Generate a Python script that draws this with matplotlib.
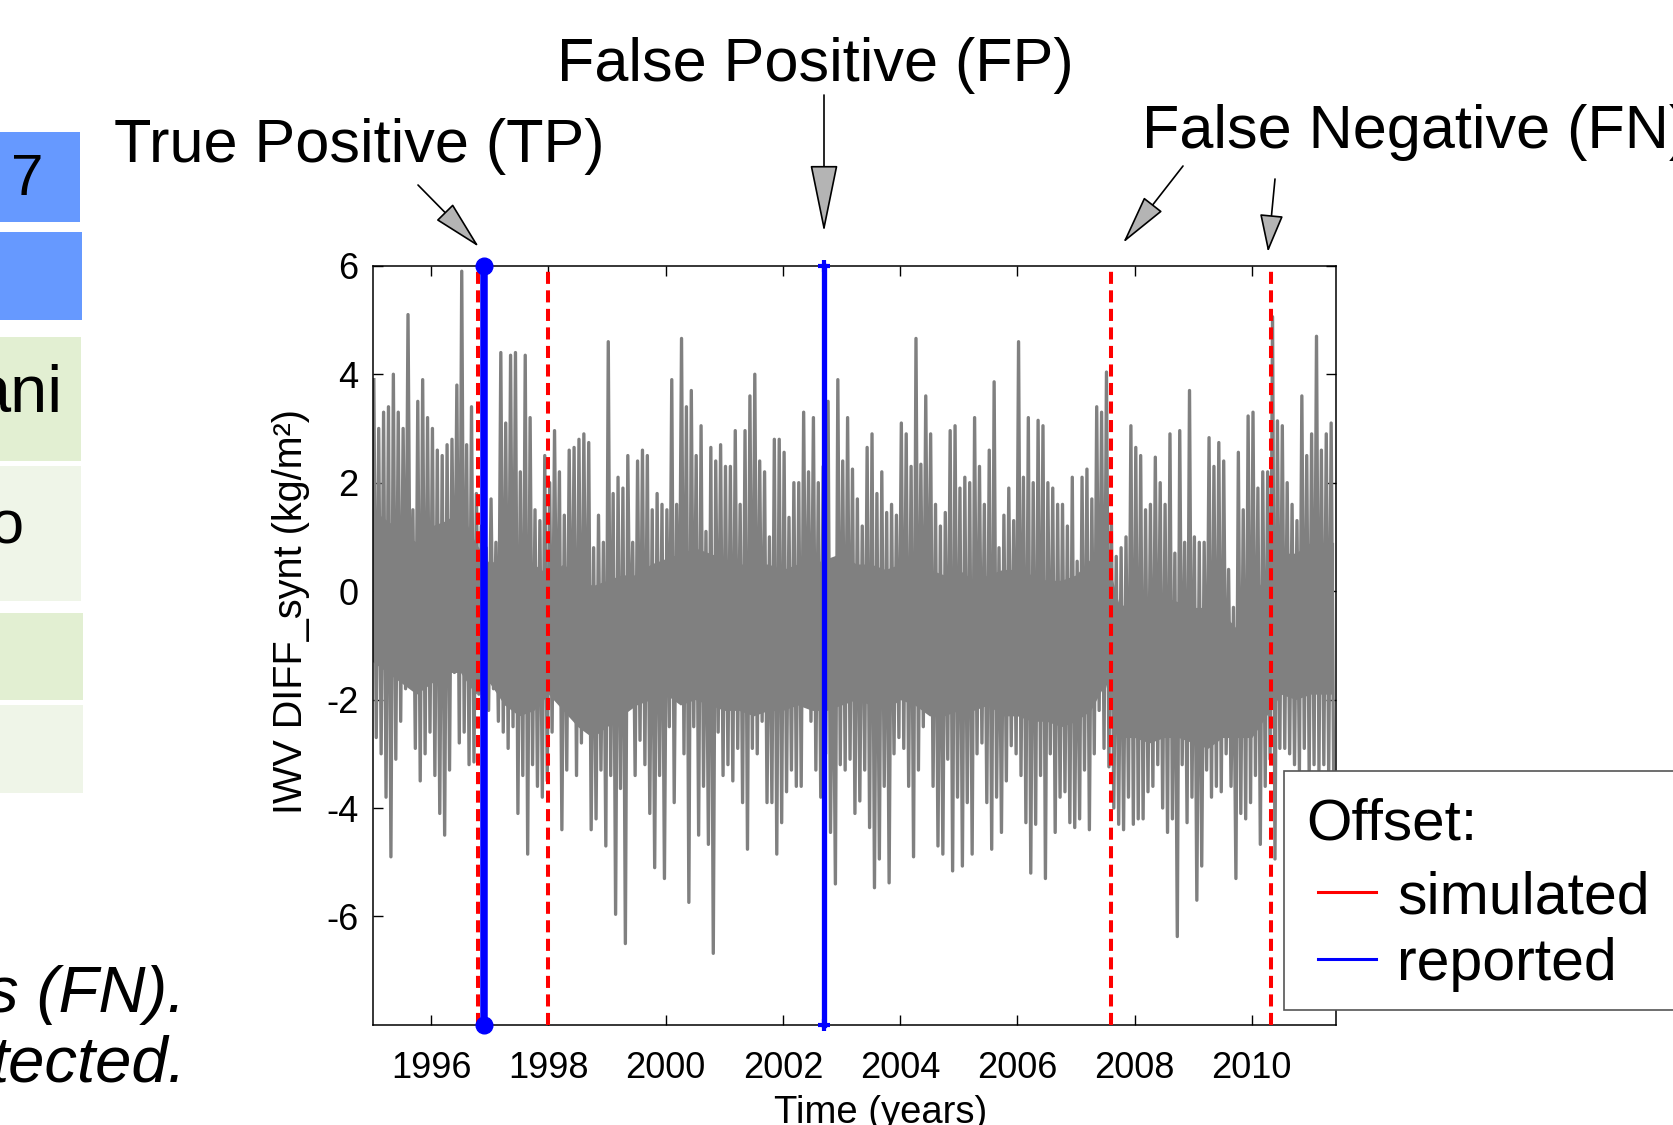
import matplotlib
matplotlib.use("Agg")
import matplotlib.pyplot as plt
import numpy as np
from matplotlib.patches import Rectangle, FancyArrowPatch
from matplotlib.lines import Line2D

# IWV DIFF_synt (kg/m^2): highest / lowest value read per month, Jan 1995 .. May 2011
monthly_max = [
    3.9, 3.0, 3.3, 3.4, 4.0, 3.3, 3.0, 5.1, 1.5, 3.5,
    3.9, 3.2, 3.0, 2.6, 2.5, 2.7, 2.8, 3.8, 5.9, 2.7,
    3.4, 1.8, 1.2, 0.8, 1.7, 0.9, 4.4, 3.1, 4.35, 4.4,
    2.2, 4.35, 3.2, 1.5, 1.3, 2.5, 2.0, 2.96, 2.2, 1.4,
    2.6, 2.65, 2.8, 2.9, 2.74, 0.8, 1.4, 0.9, 4.6,
    1.8, 2.1, 1.9, 2.5, 0.9, 2.4, 2.6, 2.5, 1.5, 1.8,
    1.6, 1.5, 3.9, 1.6, 4.66, 3.4, 3.7, 2.5, 3.05, 1.1,
    2.65, 2.4, 2.7, 2.3, 2.3, 2.96, 1.6, 2.96, 3.6, 4.0,
    2.4, 2.2, 1.0, 2.8, 2.8, 2.56, 1.36, 2.0, 2.0, 3.3,
    2.2, 3.2, 2.0, 2.3, 3.5, 0.2, 3.9, 2.4, 3.2, 2.25,
    1.7, 1.2, 2.65, 2.9, 1.8, 2.2, 1.45, 1.6, 1.4, 3.1,
    2.9, 2.3, 4.66, 2.34, 3.6, 2.9, 1.6, 1.2, 1.45, 2.96,
    3.05, 1.9, 2.1, 2.0, 3.2, 2.3, 1.6, 2.6, 3.86, 0.8,
    1.4, 1.9, 1.3, 4.6, 2.1, 3.2, 2.0, 3.15, 3.05, 2.0,
    1.9, 1.6, 1.6, 1.2, 2.1, 0.55, 2.1, 2.25,
    1.7, 3.4, 3.3, 4.04, 1.4, 0.64, 0.8, 1.0, 3.05, 2.65,
    2.5, 1.5, 1.6, 2.47, 2.0, 1.6, 2.9, 0.7, 2.96, 0.9,
    3.7, 1.0, 0.9, 0.9, 2.83, 2.3, 2.74, 2.4, 0.4, -0.3,
    2.56, 1.5, 3.23, 3.3, 1.9, 2.2, 2.2, 5.06, 3.14, 3.05,
    2.0, 1.6, 1.3, 3.6, 2.5, 2.9, 4.7, 2.6, 2.9, 3.1,
]
monthly_min = [
    -2.7, -3.0, -3.8, -4.9, -3.1, -2.4, -1.8, -1.4, -2.9, -3.5,
    -3.0, -2.6, -3.4, -4.1, -4.5, -3.3, -1.5, -2.8, -2.6, -3.2,
    -3.15, -1.9, -5.3, -2.2, -1.8, -2.4, -2.6, -2.9, -2.5, -4.1,
    -3.4, -4.85, -3.2, -3.6, -3.8, -3.5, -2.6, -1.9, -4.4, -3.3,
    -2.1, -3.4, -2.8, -2.4, -4.4, -4.2, -3.3, -4.7, -3.4,
    -5.96, -3.64, -6.5, -1.7, -3.4, -2.75, -3.2, -4.1, -5.1, -3.4,
    -5.3, -2.5, -3.9, -1.9, -3.0, -5.74, -2.5, -4.5, -3.6, -4.67,
    -6.68, -2.6, -3.4, -3.2, -3.5, -2.9, -3.9, -4.76, -2.9, -3.0,
    -2.4, -3.9, -3.9, -4.85, -4.27, -3.7, -3.3, -3.6, -3.6, -2.1,
    -2.4, -3.3, -3.8, -3.0, -4.45, -5.4, -3.2, -3.3, -3.1, -4.1,
    -3.87, -3.3, -4.36, -5.47, -4.94, -3.6, -5.38, -3.0, -2.7, -2.9,
    -3.6, -4.9, -3.3, -2.5, -2.1, -3.6, -4.7, -4.85, -3.1, -5.16,
    -3.8, -5.07, -3.9, -4.85, -3.0, -2.8, -3.9, -4.76, -3.8, -4.45,
    -3.5, -2.85, -3.0, -3.4, -4.27, -5.2, -4.3, -3.4, -5.3, -3.0,
    -4.45, -3.8, -3.7, -4.27, -4.36, -4.2, -3.3, -4.4,
    -3.0, -2.2, -2.9, -3.24, -4.0, -4.3, -4.4, -3.8, -4.3, -4.2,
    -4.2, -3.7, -3.6, -3.2, -4.0, -4.45, -4.2, -6.37, -3.2, -4.27,
    -3.8, -5.7, -5.07, -3.3, -3.8, -3.6, -3.7, -3.0, -3.6, -5.3,
    -4.1, -4.2, -3.9, -3.4, -4.67, -3.6, -3.1, -4.94, -2.9, -2.9,
    -3.0, -3.2, -3.3, -2.9, -3.4, -3.2, -3.3, -3.2, -3.4, -3.3,
]
# dense centre of the series, one value per quarter (1995.0 .. 2011.25)
band_top = [
    1.5, 1.3, 1.1, 0.9, 1.2, 1.3, 1.5, 0.9, 0.5, 0.7, 0.6, 0.5, 0.3, 0.5, 0.3, 0.1, 0.2,
    0.3, 0.3, 0.5, 0.6, 0.7, 0.8, 0.7, 0.6, 0.5, 0.5, 0.5, 0.4, 0.5, 0.5, 0.6, 0.7,
    0.5, 0.5, 0.4, 0.5, 0.3, 0.4, 0.3, 0.4, 0.2, 0.3, 0.4, 0.4, 0.3, 0.2, 0.2, 0.3, 0.6,
    0.7, -0.3, -0.1, -0.3, -0.1, -0.2, -0.3, -0.3, -0.4, -0.7, -0.1, 0.3, 0.7, 0.7, 0.9, 0.9,
]
band_bottom = [
    -1.3, -1.5, -1.7, -1.9, -1.7, -1.5, -1.5, -1.9, -1.7, -2.1, -2.3, -2.2, -1.9, -2.2, -2.5, -2.7, -2.5,
    -2.3, -2.1, -2.0, -1.9, -2.1, -2.0, -2.1, -2.2, -2.2, -2.3, -2.2, -2.2, -2.1, -2.2, -2.2, -2.1,
    -2.0, -2.1, -2.2, -2.0, -2.1, -2.3, -2.3, -2.2, -2.2, -2.1, -2.3, -2.3, -2.4, -2.4, -2.5, -2.4, -2.2,
    -1.7, -2.7, -2.7, -2.8, -2.7, -2.7, -2.8, -2.9, -2.7, -2.7, -2.7, -2.3, -1.9, -2.0, -1.9, -1.9,
]
simulated_offsets = [1996.79, 1998.0, 2007.59, 2010.33]
reported_offsets = [1996.90, 2002.70]
year_ticks = [1996, 1998, 2000, 2002, 2004, 2006, 2008, 2010]
value_ticks = [-6, -4, -2, 0, 2, 4, 6]

W, H = 1674, 1125
plt.rcParams['font.family'] = ['Liberation Sans', 'DejaVu Sans']
plt.rcParams['axes.unicode_minus'] = False


def fx(px):
    return px / W


def fy(py):
    return 1 - py / H


fig = plt.figure(figsize=(W / 100, H / 100), dpi=100)
ax = fig.add_axes([fx(372.6), fy(1024.9), 963 / W, 759.1 / H])

# series: monthly max and min alternate within each month
start = 1995.0
months = np.arange(len(monthly_max))
t = np.empty(2 * len(months))
v = np.empty(2 * len(months))
t[0::2] = start + (months + 0.25) / 12
t[1::2] = start + (months + 0.75) / 12
v[0::2] = monthly_max
v[1::2] = monthly_min
t_end = t[-1]

quarters = start + 0.25 * np.arange(len(band_top))
qt = np.append(quarters, t_end)
ax.fill_between(qt, np.append(band_bottom, band_bottom[-1]), np.append(band_top, band_top[-1]),
                color='#808080', lw=0, zorder=2)
ax.plot(t, v, color='#808080', lw=2.4, zorder=2)

for yr in simulated_offsets:
    ax.axvline(yr, color='red', lw=2.9, ls=(0, (3, 1.6)), zorder=3)

ax.plot([reported_offsets[0]] * 2, [-8, 6], color='blue', lw=5.4, marker='o', ms=12,
        clip_on=False, zorder=4)
ax.plot([reported_offsets[1]] * 2, [-8, 6], color='blue', lw=3.8, marker='+', ms=9, mew=3,
        clip_on=False, zorder=4)

ax.set_xlim(1995.0, 2011.43)
ax.set_ylim(-8, 6)
ax.set_xticks(year_ticks)
ax.set_xticklabels([str(y) for y in year_ticks])
ax.set_yticks(value_ticks)
ax.set_yticklabels([str(y) for y in value_ticks])
ax.tick_params(axis='both', direction='in', length=7, width=1, top=True, right=True, labelsize=26)
ax.tick_params(axis='x', pad=19)
ax.tick_params(axis='y', pad=10)
for s in ax.spines.values():
    s.set_linewidth(1.1)

ax.set_ylabel('IWV DIFF_synt (kg/m²)', fontsize=28.5)
ax.yaxis.set_label_coords(-0.065, 0.544)
ax.set_xlabel('Time (years)', fontsize=27.5)
ax.xaxis.set_label_coords(0.528, -0.092)

# annotations above the plot
fig.text(fx(114), fy(162), 'True Positive (TP)', fontsize=44, ha='left', va='baseline')
fig.text(fx(557), fy(81), 'False Positive (FP)', fontsize=44, ha='left', va='baseline')
fig.text(fx(1142), fy(148), 'False Negative (FN)', fontsize=44, ha='left', va='baseline')

arrows = [((418, 185), (479, 247), 32, 7.5),
          ((824, 95), (824, 232), 44, 9),
          ((1183, 166), (1123, 243), 32, 7.5),
          ((1275, 179), (1268, 252), 24, 7.5)]
for (x0, y0), (x1, y1), hl, hw in arrows:
    arr = FancyArrowPatch((fx(x0), fy(y0)), (fx(x1), fy(y1)), transform=fig.transFigure,
                          arrowstyle='-|>,head_length=%g,head_width=%g' % (hl, hw),
                          mutation_scale=1, lw=1.2, facecolor='#b4b4b4', edgecolor='black',
                          shrinkA=0, shrinkB=0)
    fig.add_artist(arr)

# legend
fig.add_artist(Rectangle((fx(1284), fy(1010)), (1720 - 1284) / W, (1010 - 771) / H,
                         transform=fig.transFigure, facecolor='white', edgecolor='#555555',
                         lw=1.2, zorder=5))
fig.text(fx(1306), fy(840), 'Offset:', fontsize=42, ha='left', va='baseline', zorder=6)
fig.add_artist(Line2D([fx(1318), fx(1376)], [fy(892), fy(892)], transform=fig.transFigure,
                      color='red', lw=2.2, zorder=6))
fig.add_artist(Line2D([fx(1318), fx(1376)], [fy(959), fy(959)], transform=fig.transFigure,
                      color='blue', lw=2.2, zorder=6))
fig.text(fx(1397), fy(913), 'simulated', fontsize=42.5, ha='left', va='baseline', zorder=6)
fig.text(fx(1397), fy(980), 'reported', fontsize=42.5, ha='left', va='baseline', zorder=6)

# slide table cut off on the left
boxes = [(80, 132, 222, '#6699ff'), (82, 232, 320, '#6699ff'),
         (81, 337, 461, '#e2efd2'), (81, 466, 601, '#eff5e8'),
         (83, 613, 700, '#e2efd2'), (83, 705, 793, '#eff5e8')]
for x1, y0, y1, col in boxes:
    fig.add_artist(Rectangle((0, fy(y1)), x1 / W, (y1 - y0) / H, transform=fig.transFigure,
                             facecolor=col, edgecolor='none'))
fig.text(fx(27), fy(180), '7', fontsize=42, ha='center', va='center')
fig.text(fx(62), fy(412), 'ani', fontsize=48, ha='right', va='baseline')
fig.text(fx(24), fy(528), 'o', fontsize=44, ha='right', va='center')

fig.text(fx(185), fy(1012), 's (FN).', fontsize=47, style='italic', ha='right', va='baseline')
fig.text(fx(186), fy(1082), 'tected.', fontsize=47, style='italic', ha='right', va='baseline')

fig.savefig('out.png', dpi=100)
